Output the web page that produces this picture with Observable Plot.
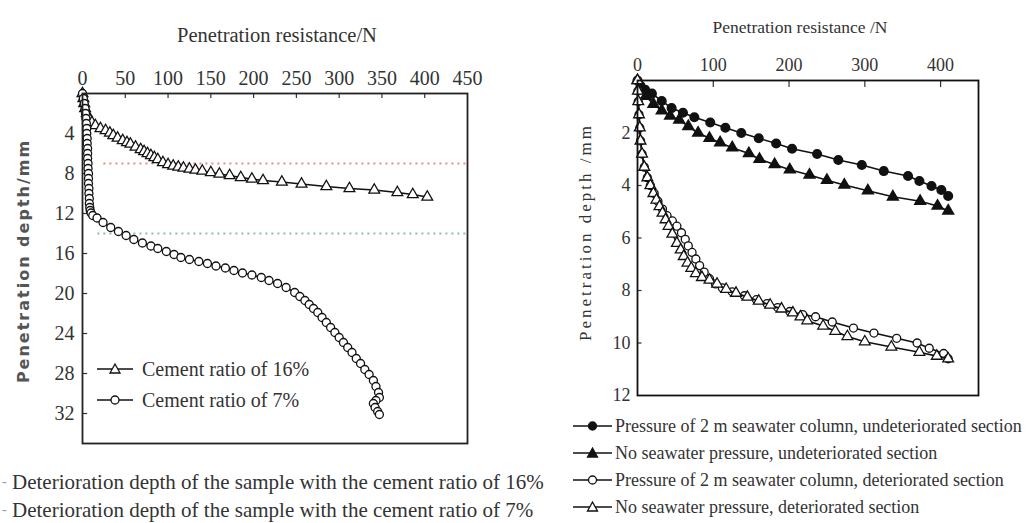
<!DOCTYPE html>
<html><head><meta charset="utf-8">
<script src="https://cdn.jsdelivr.net/npm/d3@7"></script>
<script src="https://cdn.jsdelivr.net/npm/@observablehq/plot@0.6"></script>
<style>
body{margin:0;background:#fff;}
#wrap{position:relative;width:1035px;height:523px;overflow:hidden;font-family:'Liberation Serif',serif;color:#333;}
.abs{position:absolute;white-space:nowrap;line-height:1;}
.plot{position:absolute;top:0;}
svg.plot text{font-family:'Liberation Serif',serif !important;}
</style></head><body><div id="wrap"></div>
<script>
// ---------- Left panel data ----------
const leftXTicks = [0, 50, 100, 150, 200, 250, 300, 350, 400, 450];
const leftYTicks = [4, 8, 12, 16, 20, 24, 28, 32];
const left16X = [0,1,2,3,5,7,11,15,21,27,32,36,41,47,52,56,62,68,72,76,80,84,88,94,100,106,112,118,125,132,140,150,160,172,185,198,211,233,256,285,312,341,368,386,403];
const left16Y = [0,0.5,1.0,1.5,2.0,2.4,2.9,3.2,3.5,3.7,3.95,4.2,4.45,4.7,4.9,5.05,5.35,5.6,5.8,6.0,6.2,6.4,6.6,6.9,7.1,7.25,7.35,7.45,7.55,7.65,7.75,7.9,8.05,8.2,8.4,8.55,8.7,8.85,9.05,9.3,9.5,9.65,9.9,10.1,10.35];
const left7X = [0,1,2,3,3.5,4,4.5,5,5,5.5,5.5,6,6,6,6.5,6.5,7,7,7,7.5,7.5,8,8,8.5,9,10,12,17,24,33,42,51,60,70,80,88,98,107,115,125,136,146,156,167,177,187,198,209,218,228,238,248,254,260,265,270,275,280,285,290,295,300,305,310,315,320,325,330,335,340,343,346,347,343,340,342,345,347];
const left7Y = [0,0.5,1,1.5,2,2.5,3,3.5,4,4.5,5,5.5,6,6.5,7,7.5,8,8.5,9,9.5,10,10.5,11,11.4,11.7,11.95,12.2,12.45,12.9,13.4,13.8,14.2,14.6,14.95,15.25,15.5,15.8,16.1,16.4,16.6,16.8,17.0,17.25,17.45,17.7,17.95,18.15,18.4,18.7,19.0,19.4,19.9,20.3,20.7,21.1,21.5,21.9,22.4,22.9,23.4,23.9,24.4,24.9,25.4,25.9,26.5,27.0,27.6,28.1,28.7,29.3,29.9,30.4,30.7,31.0,31.4,31.8,32.1];
const deteriorationDepth = [7, 14];
const deteriorationStart = [25, 18];
const deteriorationColor = ["#e98a8a", "#8fbf9f"];
const leftSeriesNames = ["Cement ratio of 16%", "Cement ratio of 7%"];
const leftCaptions = ["Deterioration depth of the sample with the cement ratio of 16%", "Deterioration depth of the sample with the cement ratio of 7%"];

// ---------- Right panel data ----------
const rightXTicks = [0, 100, 200, 300, 400];
const rightYTicks = [2, 4, 6, 8, 10, 12];
const rAX = [0,4,10,19,32,45,60,75,96,116,137,160,183,204,237,265,296,325,357,372,388,401,410];
const rAY = [0,0.2,0.35,0.5,0.78,1.05,1.23,1.4,1.6,1.8,2.0,2.2,2.4,2.6,2.8,3.03,3.22,3.45,3.64,3.83,4.02,4.17,4.4];
const rBX = [0,4,11,21,32,43,55,67,80,95,109,125,147,161,181,201,227,250,273,304,337,373,396,410];
const rBY = [0,0.25,0.6,0.9,1.15,1.35,1.5,1.75,2.0,2.2,2.37,2.56,2.78,3.0,3.2,3.4,3.6,3.8,3.98,4.2,4.43,4.6,4.78,4.97];
const rCX = [0,0.5,1,2,3,4,6,9,13,17,22,27,33,39,46,52,58,63,67,72,77,82,88,95,103,112,125,141,157,171,185,201,218,235,257,285,312,342,369,385,404,410];
const rCY = [0,0.4,0.8,1.3,1.8,2.3,2.8,3.3,3.7,4.0,4.3,4.6,4.9,5.15,5.35,5.55,5.8,6.05,6.3,6.55,6.8,7.05,7.3,7.55,7.75,7.9,8.05,8.2,8.35,8.5,8.65,8.8,8.92,9.0,9.2,9.43,9.62,9.82,10.0,10.2,10.4,10.6];
const rDX = [0,0.5,1,2,3,4,6,9,13,17,21,25,29,33,37,41,46,52,57,61,66,71,77,85,95,105,117,130,145,160,175,190,205,215,224,245,261,277,300,335,372,395,410];
const rDY = [0,0.4,0.8,1.3,1.8,2.3,2.8,3.3,3.7,4.0,4.3,4.55,4.8,5.05,5.3,5.55,5.85,6.2,6.45,6.7,6.95,7.15,7.35,7.5,7.6,7.75,7.95,8.1,8.25,8.4,8.55,8.7,8.85,9.0,9.15,9.35,9.55,9.75,9.95,10.15,10.35,10.5,10.6];
const rightSeriesNames = [
  "Pressure of 2 m seawater column, undeteriorated section",
  "No seawater pressure, undeteriorated section",
  "Pressure of 2 m seawater column, deteriorated section",
  "No seawater pressure, deteriorated section"
];

// ---------- helpers ----------
const SERIF = "'Liberation Serif', serif";
const zip = (xs, ys) => xs.map((x, i) => ({x, y: ys[i]}));
const wrap = document.getElementById("wrap");
function addText(txt, left, top, css) {
  const d = document.createElement("div");
  d.className = "abs";
  d.textContent = txt;
  d.style.left = left + "px";
  d.style.top = top + "px";
  Object.assign(d.style, css || {});
  wrap.appendChild(d);
  return d;
}
function symbolSVG(kind, w) {
  const h = 14, cx = w / 2, cy = 7;
  let m = "";
  const fill = kind.filled ? "#111" : "#fff";
  if (kind.shape === "circle") m = `<circle cx="${cx}" cy="${cy}" r="4" fill="${fill}" stroke="#111" stroke-width="1.3"/>`;
  else m = `<path d="M${cx},${cy-5} L${cx+5},${cy+4} L${cx-5},${cy+4} Z" fill="${fill}" stroke="#111" stroke-width="1.3"/>`;
  return `<svg width="${w}" height="${h}" style="display:block"><line x1="0" y1="${cy}" x2="${w}" y2="${cy}" stroke="#111" stroke-width="1.6"/>${m}</svg>`;
}
function addSymbol(kind, left, cy, w) {
  const d = document.createElement("div");
  d.className = "abs";
  d.style.left = left + "px";
  d.style.top = (cy - 7) + "px";
  d.innerHTML = symbolSVG(kind, w);
  wrap.appendChild(d);
}

// ---------- Left plot ----------
const s16 = zip(left16X, left16Y), s7 = zip(left7X, left7Y);
const detTable = deteriorationDepth.map((y, i) => ({y, x1: deteriorationStart[i], c: deteriorationColor[i]}));
const leftPlot = Plot.plot({
  width: 520, height: 523,
  marginLeft: 82, marginRight: 53, marginTop: 93, marginBottom: 80,
  style: {fontFamily: SERIF, fontSize: "20px", color: "#333", background: "transparent", overflow: "visible"},
  x: {domain: [0, 450]},
  y: {domain: [0, 35], reverse: true},
  marks: [
    Plot.ruleY(detTable, {y: "y", x1: "x1", x2: 450, stroke: "c", strokeWidth: 2, strokeDasharray: "2,4"}),
    Plot.axisX({anchor: "top", ticks: leftXTicks, tickSize: 0, tickPadding: 9, label: null, fontSize: 20, fontFamily: SERIF}),
    Plot.axisY({anchor: "left", ticks: leftYTicks, tickSize: 0, tickPadding: 8, label: null, fontSize: 20, fontFamily: SERIF}),
    Plot.ruleX(leftXTicks.slice(1, -1), {x: d => d, y1: 0, y2: 0.5, stroke: "#333", strokeWidth: 1.2}),
    Plot.ruleY(leftYTicks, {y: d => d, x1: 0, x2: 6, stroke: "#333", strokeWidth: 1.2}),
    Plot.line(s16, {x: "x", y: "y", stroke: "#111", strokeWidth: 1.6}),
    Plot.dot(s16, {x: "x", y: "y", symbol: "triangle", r: 4, fill: "white", stroke: "#111", strokeWidth: 1.3}),
    Plot.line(s7, {x: "x", y: "y", stroke: "#111", strokeWidth: 1.6}),
    Plot.dot(s7, {x: "x", y: "y", symbol: "circle", r: 4, fill: "white", stroke: "#111", strokeWidth: 1.3}),
    Plot.frame({stroke: "#222", strokeWidth: 1.8})
  ]
});
leftPlot.classList.add("plot");
leftPlot.style.left = "0px";
wrap.appendChild(leftPlot);

// ---------- Right plot ----------
const rA = zip(rAX, rAY), rB = zip(rBX, rBY), rC = zip(rCX, rCY), rD = zip(rDX, rDY);
const rightPlot = Plot.plot({
  width: 515, height: 523,
  marginLeft: 117, marginRight: 57, marginTop: 80, marginBottom: 128,
  style: {fontFamily: SERIF, fontSize: "18px", color: "#333", background: "transparent", overflow: "visible"},
  x: {domain: [0, 450]},
  y: {domain: [0, 12], reverse: true},
  marks: [
    Plot.axisX({anchor: "top", ticks: rightXTicks, tickSize: 0, tickPadding: 10, label: null, fontSize: 18, fontFamily: SERIF}),
    Plot.axisY({anchor: "left", ticks: rightYTicks, tickSize: 0, tickPadding: 7, label: null, fontSize: 18, fontFamily: SERIF}),
    Plot.ruleX(rightXTicks.slice(1), {x: d => d, y1: 0, y2: 0.27, stroke: "#333", strokeWidth: 1.2}),
    Plot.ruleY(rightYTicks.slice(0, -1), {y: d => d, x1: 0, x2: 6, stroke: "#333", strokeWidth: 1.2}),
    Plot.line(rA, {x: "x", y: "y", stroke: "#111", strokeWidth: 1.6}),
    Plot.dot(rA, {x: "x", y: "y", symbol: "circle", r: 4.3, fill: "#111", stroke: "#111"}),
    Plot.line(rB, {x: "x", y: "y", stroke: "#111", strokeWidth: 1.6}),
    Plot.dot(rB, {x: "x", y: "y", symbol: "triangle", r: 4, fill: "#111", stroke: "#111"}),
    Plot.line(rC, {x: "x", y: "y", stroke: "#111", strokeWidth: 1.6}),
    Plot.dot(rC, {x: "x", y: "y", symbol: "circle", r: 4, fill: "white", stroke: "#111", strokeWidth: 1.3}),
    Plot.line(rD, {x: "x", y: "y", stroke: "#111", strokeWidth: 1.6}),
    Plot.dot(rD, {x: "x", y: "y", symbol: "triangle", r: 4, fill: "white", stroke: "#111", strokeWidth: 1.3}),
    Plot.frame({stroke: "#111", strokeWidth: 1.8})
  ]
});
rightPlot.classList.add("plot");
rightPlot.style.left = "520px";
wrap.appendChild(rightPlot);

// ---------- Titles / axis labels ----------
addText("Penetration resistance/N", 277, 35, {fontSize: "20.5px", transform: "translate(-50%,-50%)"});
addText("Penetration resistance /N", 800, 28, {fontSize: "17.5px", transform: "translate(-50%,-50%)"});
addText("Penetration depth/mm", 24, 261, {fontFamily: "'DejaVu Sans', sans-serif", fontWeight: "bold", fontSize: "16px", letterSpacing: "2px", color: "#555", transform: "translate(-50%,-50%) rotate(-90deg)"});
addText("Penetration depth /mm", 585, 232, {fontSize: "17px", letterSpacing: "3px", color: "#333", transform: "translate(-50%,-50%) rotate(-90deg)"});

// ---------- Left legend (inside plot) ----------
const leftKinds = [{shape: "triangle", filled: false}, {shape: "circle", filled: false}];
[369, 400].forEach((cy, i) => {
  addSymbol(leftKinds[i], 97, cy, 36);
  addText(leftSeriesNames[i], 142, cy, {fontSize: "20px", transform: "translateY(-50%)"});
});
// ---------- Left caption ----------
[482, 510].forEach((cy, i) => {
  addText("-", 2, cy, {fontSize: "14px", color: "#999", transform: "translateY(-50%)"});
  addText(leftCaptions[i], 12, cy, {fontSize: "21px", transform: "translateY(-50%)"});
});
// ---------- Right legend ----------
const rightKinds = [{shape: "circle", filled: true}, {shape: "triangle", filled: true}, {shape: "circle", filled: false}, {shape: "triangle", filled: false}];
[426, 453, 480, 507].forEach((cy, i) => {
  addSymbol(rightKinds[i], 573, cy, 39);
  addText(rightSeriesNames[i], 615, cy, {fontSize: "18px", transform: "translateY(-50%)"});
});
</script></body></html>
